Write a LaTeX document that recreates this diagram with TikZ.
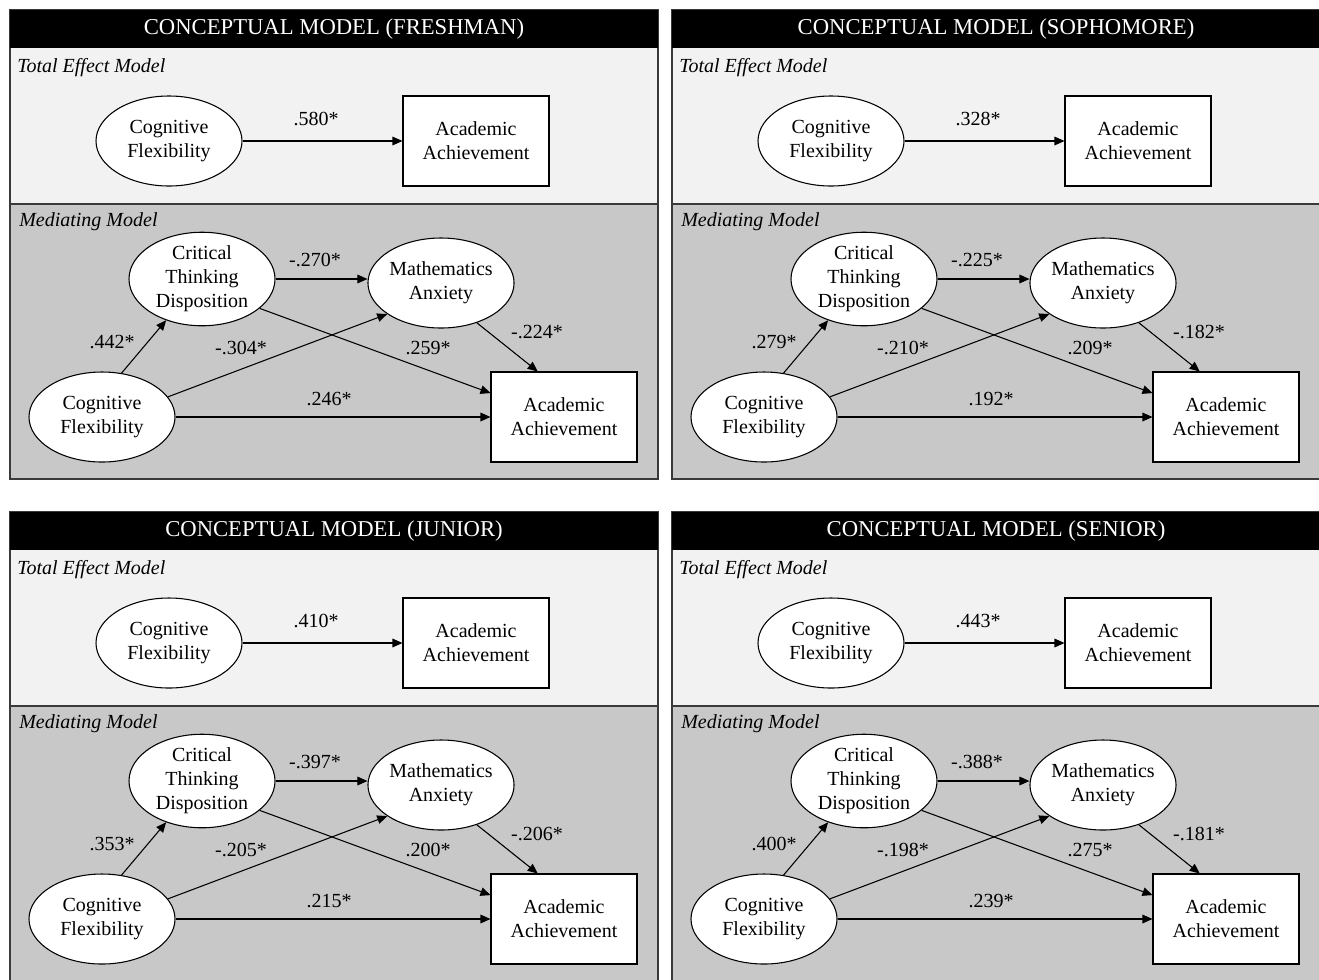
\documentclass[tikz,border=0pt]{standalone}
\usepackage{fontspec}
\setmainfont{Liberation Serif}
\usetikzlibrary{shapes.geometric,arrows.meta}
\definecolor{totfill}{HTML}{F2F2F2}
\definecolor{medfill}{HTML}{C8C8C8}
\definecolor{frame}{HTML}{3A3A3A}
\tikzset{
  body/.style={font=\fontsize{15}{18}\selectfont},
  latent/.style={body, ellipse, draw, fill=white, line width=0.8pt,
    minimum width=109.5pt, minimum height=67.5pt, inner sep=0pt, align=center},
  observed/.style={body, rectangle, draw, fill=white, line width=0.8pt,
    minimum width=109.5pt, minimum height=67.5pt, inner sep=0pt, align=center},
  effect/.style={line width=0.8pt, -{Triangle[length=7.5pt,width=6.5pt]}},
  coef/.style={body, inner sep=0pt},
  hdr/.style={font=\fontsize{17}{20}\selectfont, text=white, inner sep=0pt},
  sublbl/.style={body, font=\fontsize{15}{18}\selectfont\itshape, inner sep=0pt, anchor=west},
}

\begin{document}
\begin{tikzpicture}[x=0.75pt, y=-0.75pt]

\useasboundingbox (0,0) rectangle (1319,979);
\clip (0,0) rectangle (1319,979);

\foreach \i/\px/\py/\grade/\tot/\pa/\pb/\pc/\pd/\pe/\pf in {
  1/0/0/FRESHMAN/.580*/.442*/-.270*/-.304*/.259*/-.224*/.246*,
  2/662/0/SOPHOMORE/.328*/.279*/-.225*/-.210*/.209*/-.182*/.192*,
  3/0/502/JUNIOR/.410*/.353*/-.397*/-.205*/.200*/-.206*/.215*,
  4/662/502/SENIOR/.443*/.400*/-.388*/-.198*/.275*/-.181*/.239*}
{
\begin{scope}[shift={(\px,\py)}]

% ===== panel frame =====
\fill[totfill] (10,48) rectangle (658,204);
\fill[medfill] (10,204) rectangle (658,479);
\draw[frame, line width=0.8pt] (10,204) -- (658,204);
\draw[frame, line width=0.8pt] (10,10) rectangle (658,479);
\fill[black] (10,10) rectangle (658,48);
\node[hdr] (hdr-\i) at (334,29) {CONCEPTUAL MODEL (\grade)};
\node[sublbl] (tl-\i) at (17,68) {Total Effect Model};
\node[sublbl] (ml-\i) at (19,222) {Mediating Model};

% ===== total effect model =====
\node[latent] (tcf-\i) at (169,141) {Cognitive\\Flexibility};
\node[observed] (taa-\i) at (476,141) {Academic\\Achievement};
\draw[effect] (tcf-\i) -- (taa-\i);
\node[coef] (tc-\i) at (316,119) {\tot};

% ===== mediating model =====
\node[latent] (cf-\i) at (102,417) {Cognitive\\Flexibility};
\node[latent] (ctd-\i) at (202,279) {Critical\\Thinking\\Disposition};
\node[latent] (ma-\i) at (441,283) {Mathematics\\Anxiety};
\node[observed] (aa-\i) at (564,417) {Academic\\Achievement};

\draw[effect] (cf-\i.66) -- (ctd-\i.229);                 % CF -> CTD
\draw[effect] (ctd-\i.east) -- (ctd-\i.east -| ma-\i.west); % CTD -> MA
\draw[effect] (cf-\i.17) -- (ma-\i.210);                  % CF -> MA
\draw[effect] (ctd-\i.333) -- (aa-\i.162);                % CTD -> AA
\draw[effect] (ma-\i.312) -- (aa-\i.120);                 % MA -> AA
\draw[effect] (cf-\i.east) -- (aa-\i.west);               % CF -> AA

\node[coef] (c1-\i) at (112,342) {\pa};
\node[coef] (c2-\i) at (315,260) {\pb};
\node[coef] (c3-\i) at (241,348) {\pc};
\node[coef] (c4-\i) at (428,348) {\pd};
\node[coef] (c5-\i) at (537,332) {\pe};
\node[coef] (c6-\i) at (329,399) {\pf};

\end{scope}
}

\end{tikzpicture}
\end{document}
